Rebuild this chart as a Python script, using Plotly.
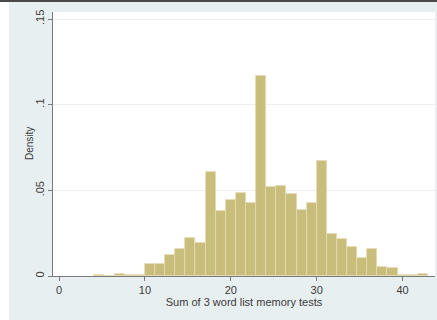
import plotly.graph_objects as go

# Histogram of summed word-list scores (density scale)
bin_start = 4.1176          # lower edge of the first bin
bin_width = 20 / 17         # common bin width
density = [
    0.0005, 0.0002, 0.0010, 0.0003, 0.0007,
    0.0070, 0.0070, 0.0120, 0.0155, 0.0223, 0.0192,
    0.0607, 0.0377, 0.0441, 0.0484, 0.0426, 0.1169,
    0.0517, 0.0523, 0.0480, 0.0387, 0.0429, 0.0673,
    0.0243, 0.0217, 0.0172, 0.0108, 0.0157, 0.0054,
    0.0045, 0.0006, 0.0003, 0.0010,
]
x_ticks = [0, 10, 20, 30, 40]
y_ticks = [0, 0.05, 0.10, 0.15]
y_tick_text = ["0", ".05", ".1", ".15"]

centers = [bin_start + bin_width * (i + 0.5) for i in range(len(density))]

W, H = 437, 320
L, R, T, B = 53, 2, 12, 44
pw, ph = W - L - R, H - T - B

fig = go.Figure(
    go.Bar(
        x=centers,
        y=density,
        width=bin_width,
        marker=dict(color="#c9bd7c", line=dict(color="#e2dbb0", width=0.8)),
        hoverinfo="skip",
    )
)

family = "Liberation Sans, Arial, sans-serif"
font = dict(family=family, size=10, color="#3a3a3a")
font11 = dict(family=family, size=11, color="#3a3a3a")
fig.update_layout(
    width=W,
    height=H,
    margin=dict(l=L, r=R, t=T, b=B),
    paper_bgcolor="#e8eff1",
    plot_bgcolor="#ffffff",
    showlegend=False,
    bargap=0,
    font=font,
    xaxis=dict(
        range=[-0.7, 43.77],
        tickvals=x_ticks,
        tickfont=font11,
        ticks="outside",
        ticklen=4,
        tickcolor="#7a7a7a",
        showline=True,
        linecolor="#7a7a7a",
        linewidth=1,
        showgrid=False,
        zeroline=False,
        title=dict(text="Sum of 3 word list memory tests", font=font11, standoff=2),
    ),
    yaxis=dict(
        range=[0, 0.1541],
        tickvals=y_ticks,
        ticktext=y_tick_text,
        tickfont=font11,
        tickangle=-90,
        ticks="outside",
        ticklen=4,
        tickcolor="#7a7a7a",
        showline=True,
        linecolor="#7a7a7a",
        linewidth=1,
        showgrid=True,
        gridcolor="#eeeeea",
        gridwidth=1,
        zeroline=False,
    ),
    annotations=[
        # y-axis title placed close to the tick labels
        dict(text="Density", xref="paper", yref="paper",
             x=(29 - L) / pw, y=0.5, textangle=-90, showarrow=False,
             xanchor="center", yanchor="middle", font=font),
    ],
    shapes=[
        # white strip along the left edge of the page
        dict(type="rect", xref="paper", yref="paper", layer="below",
             x0=-L / pw, x1=(9 - L) / pw, y0=-B / ph, y1=1 + T / ph,
             fillcolor="#ffffff", line=dict(width=0)),
        # dark rule along the top edge
        dict(type="rect", xref="paper", yref="paper",
             x0=-L / pw, x1=1 + R / pw, y0=1 + (T - 2) / ph, y1=1 + T / ph,
             fillcolor="#4a4a4a", line=dict(width=0)),
    ],
)

fig.write_html("out.html")
